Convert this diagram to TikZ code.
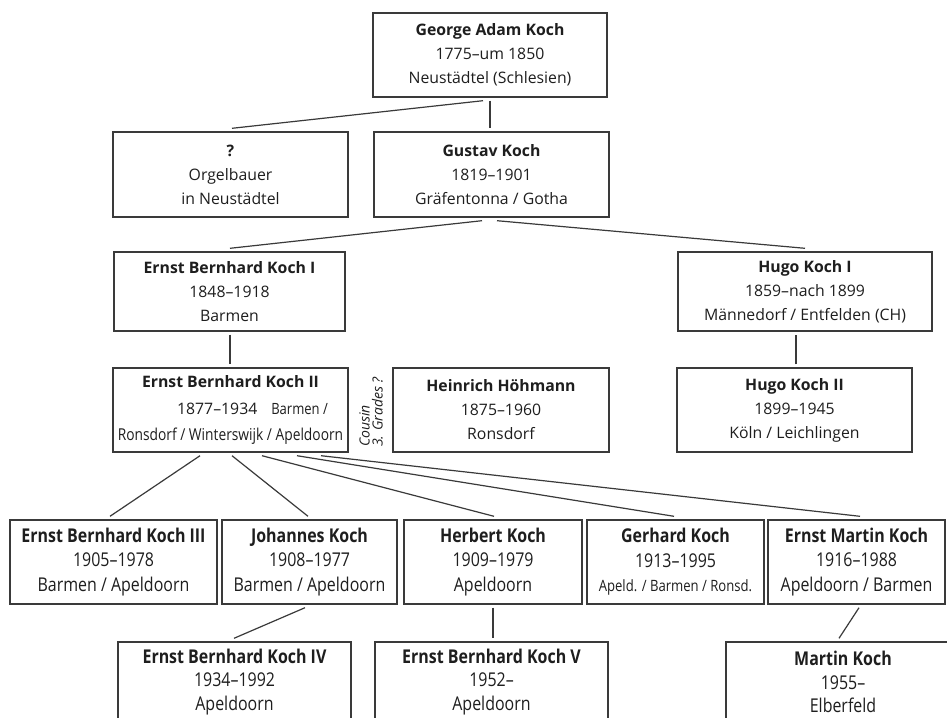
\documentclass[tikz,border=0pt]{standalone}
\usepackage{fontspec}
\setmainfont{Open Sans}
\newfontfamily\condfont[FakeStretch=0.84]{Open Sans}
\usetikzlibrary{calc}
\definecolor{ln}{HTML}{3A3A3A}
\definecolor{tx}{HTML}{1E1E1E}
\begin{document}
\begin{tikzpicture}[x=1pt,y=-1pt,
  box/.style n args={2}{draw=ln,line width=1.4pt,minimum width=#1,minimum height=#2,
    inner sep=0pt,align=center,text=tx,font=\fontsize{15.8}{24}\selectfont},
  cbox/.style n args={2}{box={#1}{#2},font=\condfont\fontsize{19}{24.5}\selectfont},
  lowtext/.style={inner sep=0pt,align=center,text=tx,font=\condfont\fontsize{19}{23.5}\selectfont},
  conn/.style={draw=ln,line width=1.2pt},
  note/.style={rotate=90,align=left,text=tx,inner sep=0pt,
    font=\fontsize{14}{13}\selectfont\itshape}]
\clip (0,0) rectangle (947,717);
\fill[white] (0,0) rectangle (947,717);

\node[box={234}{84}] (george) at (490,55)
  {\textbf{George Adam Koch}\\1775–um 1850\\Neustädtel (Schlesien)};
\node[box={235}{85}] (unk) at (230.5,174.5)
  {\textbf{?}\\Orgelbauer\\in Neustädtel};
\node[box={235}{85}] (gustav) at (491.5,174.5)
  {\textbf{Gustav Koch}\\1819–1901\\Gräfentonna / Gotha};
\node[box={231}{79}] (ebk1) at (229.5,291.5)
  {\textbf{Ernst Bernhard Koch I}\\1848–1918\\Barmen};
\node[box={254}{79}] (hugo1) at (805,291.5)
  {\textbf{Hugo Koch I}\\1859–nach 1899\\Männedorf / Entfelden (CH)};
\node[box={235}{84},font=\fontsize{15.8}{26.5}\selectfont] (ebk2) at (230.5,410)
  {\textbf{Ernst Bernhard Koch II}\\\hspace*{44pt}1877–1934\hspace{14pt}{\condfont\fontsize{15.5}{26.5}\selectfont Barmen /}\\{\condfont\fontsize{16.4}{26.5}\selectfont Ronsdorf / Winterswijk / Apeldoorn}};
\node[box={216}{84}] (heinrich) at (501,410)
  {\textbf{Heinrich Höhmann}\\1875–1960\\Ronsdorf};
\node[box={235}{84}] (hugo2) at (794.5,410)
  {\textbf{Hugo Koch II}\\1899–1945\\Köln / Leichlingen};
\node[note] (cousin) at (371,412) {Cousin\\3. Grades ?};

\node[cbox={207}{84}] (ebk3) at (113.5,562)
  {\textbf{Ernst Bernhard Koch III}\\1905–1978\\Barmen / Apeldoorn};
\node[cbox={175}{84}] (johannes) at (309.5,562)
  {\textbf{Johannes Koch}\\1908–1977\\Barmen / Apeldoorn};
\node[cbox={178}{84}] (herbert) at (493,562)
  {\textbf{Herbert Koch}\\1909–1979\\Apeldoorn};
\node[cbox={177}{84}] (gerhard) at (675.5,562)
  {\textbf{Gerhard Koch}\\1913–1995\\{\fontsize{15.6}{24.5}\selectfont Apeld. / Barmen / Ronsd.}};
\node[cbox={177}{84}] (emartin) at (856.5,562)
  {\textbf{Ernst Martin Koch}\\1916–1988\\Apeldoorn / Barmen};

\node[box={233}{84}] (ebk4) at (234.5,684) {};
\node[box={233}{84}] (ebk5) at (491.5,684) {};
\node[box={234}{84}] (martin) at (843,684) {};
\node[lowtext] (ebk4t) at (234.5,682)
  {\textbf{Ernst Bernhard Koch IV}\\1934–1992\\Apeldoorn};
\node[lowtext] (ebk5t) at (491.5,682)
  {\textbf{Ernst Bernhard Koch V}\\1952–\\Apeldoorn};
\node[lowtext] (martint) at (843,682)
  {\textbf{Martin Koch}\\1955–\\Elberfeld};

\draw[conn] ($(george.south)+(-7,3)$) -- ($(unk.north)+(1.5,-3)$);
\draw[conn] ($(george.south)+(0,3)$) -- ($(george.south |- gustav.north)+(0,-3)$);
\draw[conn] ($(gustav.south)+(-9.5,3)$) -- ($(ebk1.north)+(0.5,-3)$);
\draw[conn] ($(gustav.south)+(5.5,3)$) -- ($(hugo1.north)+(0,-3)$);
\draw[conn] ($(ebk1.south)+(0.5,3)$) -- ($(ebk1.south |- ebk2.north)+(0.5,-3)$);
\draw[conn] ($(hugo2.north)+(1.5,-3)$) -- ($(hugo2.north |- hugo1.south)+(1.5,3)$);
\draw[conn] ($(ebk2.south)+(-30.5,3)$) -- ($(ebk3.north)+(-3.5,-3)$);
\draw[conn] ($(ebk2.south)+(1.5,3)$) -- ($(johannes.north)+(-1.5,-3)$);
\draw[conn] ($(ebk2.south)+(31.5,3)$) -- ($(herbert.north)+(1,-3)$);
\draw[conn] ($(ebk2.south)+(66.5,3)$) -- ($(gerhard.north)+(-1.5,-3)$);
\draw[conn] ($(ebk2.south)+(90.5,3)$) -- ($(emartin.north)+(3.5,-3)$);
\draw[conn] ($(johannes.south)+(-4.5,3)$) -- ($(ebk4.north)+(-0.5,-3)$);
\draw[conn] ($(herbert.south)+(0,3)$) -- ($(herbert.south |- ebk5.north)+(0,-3)$);
\draw[conn] ($(emartin.south)+(2.5,3)$) -- ($(martin.north)+(-4,-3)$);
\end{tikzpicture}
\end{document}
